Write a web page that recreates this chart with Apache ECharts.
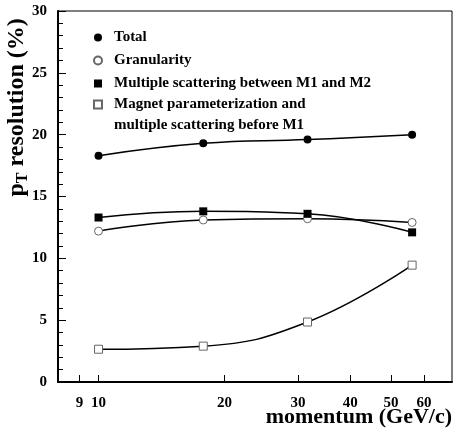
<!DOCTYPE html>
<html>
<head>
<meta charset="utf-8">
<script src="https://cdn.jsdelivr.net/npm/echarts@6/dist/echarts.min.js"></script>
<style>
  html, body { margin: 0; padding: 0; background: #fff; }
  #chartBox { width: 456px; height: 433px; }
</style>
</head>
<body>
<div id="chartBox"></div>
<script>
  // momentum values (GeV/c)
  var momentum = [10, 17.8, 31.6, 56.2];
  var total = [18.3, 19.3, 19.6, 20.0];
  var granularity = [12.2, 13.1, 13.2, 12.9];
  var multScatM1M2 = [13.3, 13.8, 13.6, 12.1];
  var magnetParam = [2.65, 2.9, 4.85, 9.45];
  var xTicks = [9, 10, 20, 30, 40, 50, 60];
  var seriesNames = [
    'Total',
    'Granularity',
    'Multiple scattering between M1 and M2',
    'Magnet parameterization and\nmultiple scattering before M1'
  ];

  function pairs(ys) {
    return momentum.map(function (x, i) { return [x, ys[i]]; });
  }

  var font = 'Liberation Serif';
  var legendText = { fontFamily: font, fontWeight: 'bold', fontSize: 15, color: '#000', lineHeight: 21, padding: [0, 0, 0, 7] };
  var chart = echarts.init(document.getElementById('chartBox'));

  var option = {
    animation: false,
    textStyle: { fontFamily: font },
    grid: {
      left: 58, top: 11, right: 4, bottom: 51,
      show: true, borderColor: '#000', borderWidth: 1,
      outerBoundsMode: 'none'
    },
    legend: [
      {
        orient: 'vertical',
        left: 88, top: 22,
        itemWidth: 8, itemHeight: 8, itemGap: 2,
        textStyle: legendText,
        data: [
          { name: seriesNames[0], icon: 'circle' },
          { name: seriesNames[1], icon: 'circle' },
          { name: seriesNames[2], icon: 'rect' }
        ]
      },
      {
        // two-line entry: blank first line keeps the symbol on the first text line
        orient: 'vertical',
        left: 88, top: 68,
        itemWidth: 8, itemHeight: 8,
        textStyle: legendText,
        formatter: function (name) { return '\n' + name; },
        data: [{ name: seriesNames[3], icon: 'rect' }]
      }
    ],
    xAxis: {
      type: 'log',
      logBase: 10,
      min: 8, max: 70,
      name: 'momentum (GeV/c)',
      nameLocation: 'end',
      nameGap: 0,
      nameMoveOverlap: false,
      nameTextStyle: {
        fontFamily: font, fontWeight: 'bold', fontSize: 22, color: '#000',
        align: 'right', verticalAlign: 'top', padding: [24, 0, 0, 0]
      },
      axisLine: { lineStyle: { color: '#000', width: 2 } },
      axisTick: { inside: true, length: 7, customValues: xTicks, lineStyle: { color: '#000' } },
      axisLabel: {
        customValues: xTicks, margin: 14,
        fontFamily: font, fontWeight: 'bold', fontSize: 15, color: '#000'
      },
      splitLine: { show: false },
      minorTick: { show: false }
    },
    yAxis: {
      type: 'value',
      min: 0, max: 30, interval: 5,
      name: '{p|p}{sub|T}{n| resolution (%)}',
      nameLocation: 'middle',
      nameGap: 27,
      nameRotate: 90,
      nameMoveOverlap: false,
      nameTextStyle: {
        align: 'left',
        rich: {
          p: { fontFamily: font, fontWeight: 'bold', fontSize: 24, color: '#000' },
          sub: { fontFamily: font, fontWeight: 'bold', fontSize: 16, color: '#000', padding: [12, 0, 0, 0] },
          n: { fontFamily: font, fontWeight: 'bold', fontSize: 24, color: '#000' }
        }
      },
      axisLine: { show: true, lineStyle: { color: '#000', width: 2 } },
      axisTick: { inside: true, length: 8, lineStyle: { color: '#000' } },
      minorTick: { show: true, splitNumber: 5, length: 5, lineStyle: { color: '#000' } },
      axisLabel: { margin: 11, fontFamily: font, fontWeight: 'bold', fontSize: 15, color: '#000' },
      splitLine: { show: false }
    },
    series: [
      {
        name: seriesNames[0], type: 'line', smooth: 0.45,
        data: pairs(total), symbol: 'circle', symbolSize: 8,
        itemStyle: { color: '#000' },
        lineStyle: { color: '#000', width: 1.5 }
      },
      {
        name: seriesNames[1], type: 'line', smooth: 0.45,
        data: pairs(granularity), symbol: 'circle', symbolSize: 8,
        itemStyle: { color: '#fff', borderColor: '#666', borderWidth: 1 },
        lineStyle: { color: '#000', width: 1.5 }
      },
      {
        name: seriesNames[2], type: 'line', smooth: 0.45,
        data: pairs(multScatM1M2), symbol: 'rect', symbolSize: 8,
        itemStyle: { color: '#000' },
        lineStyle: { color: '#000', width: 1.5 }
      },
      {
        name: seriesNames[3], type: 'line', smooth: 0.45,
        data: pairs(magnetParam), symbol: 'rect', symbolSize: 8,
        itemStyle: { color: '#fff', borderColor: '#666', borderWidth: 1 },
        lineStyle: { color: '#000', width: 1.5 }
      }
    ]
  };

  chart.setOption(option);
</script>
</body>
</html>
